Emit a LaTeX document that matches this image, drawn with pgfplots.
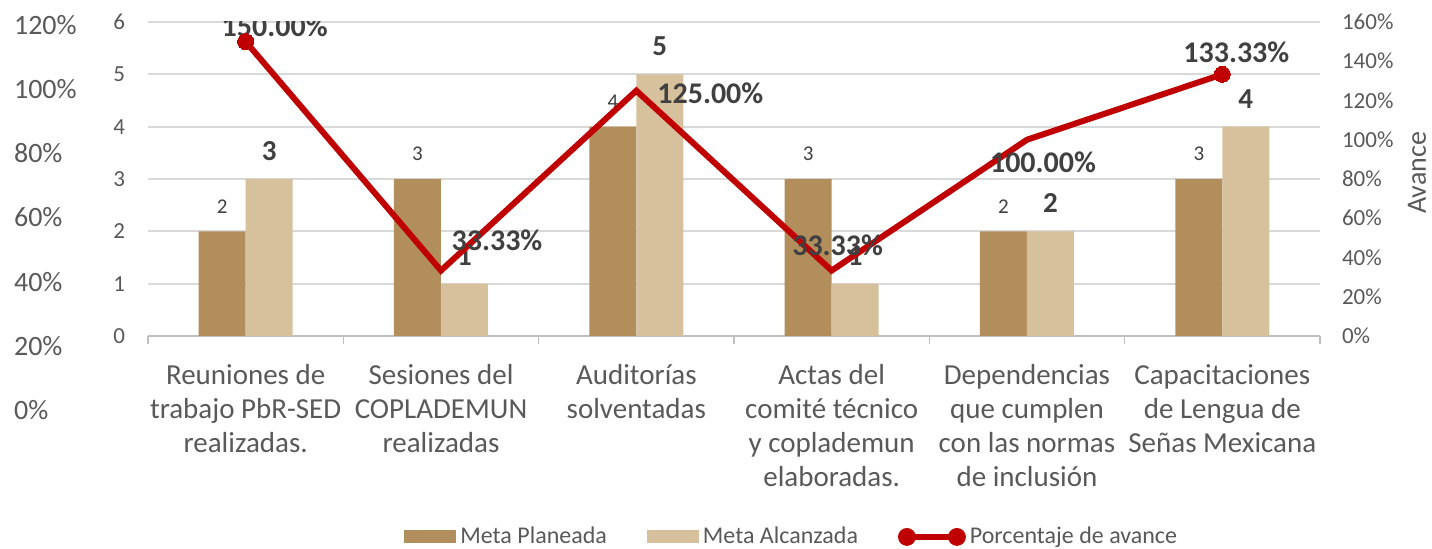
\documentclass[border=0pt]{standalone}
\usepackage{fontspec}
\setmainfont{Carlito}
\usepackage{pgfplots}
\pgfplotsset{compat=1.18}
\definecolor{plan}{HTML}{B38E5D}
\definecolor{alc}{HTML}{D6C19C}
\definecolor{lin}{HTML}{C00000}
\definecolor{txt}{HTML}{595959}
\definecolor{lab}{HTML}{404040}
\definecolor{grd}{HTML}{D9D9D9}
\definecolor{tck}{HTML}{BFBFBF}

\pgfplotsset{
  barlegend/.style={legend image code/.code={\path[##1] (0pt,-3.25pt) rectangle (26pt,3.25pt);}},
  linelegend/.style={legend image code/.code={
    \draw[lin, line width=3pt] (0pt,0pt) -- (25pt,0pt);
    \fill[lin] (0pt,0pt) circle (4.25pt);
    \fill[lin] (25pt,0pt) circle (4.25pt);}},
}

\pgfplotstableread{
x plan alc
0 2 3
1 3 1
2 4 5
3 3 1
4 2 2
5 3 4
}\metas

\pgfplotstableread{
x pct
0 150
1 33.33
2 125
3 33.33
4 100
5 133.33
}\avance

\begin{document}
\begin{tikzpicture}
\useasboundingbox (0,0) rectangle (716pt,274.5pt);

% far-left percentage scale
\begin{axis}[
  at={(0pt,69.5pt)}, anchor=south west, scale only axis,
  width=1pt, height=192.5pt,
  xmin=0, xmax=1, ymin=0, ymax=120, ytick={0,20,...,120},
  hide x axis, axis y line*=left, y axis line style={draw=none},
  major tick length=0pt, ytick style={draw=none},
  /pgf/number format/assume math mode=true,
  yticklabel={\pgfmathprintnumber{\tick}\%},
  yticklabel style={anchor=west, font=\fontsize{14}{16}\selectfont, text=txt, xshift=3.5pt},
]
\end{axis}

% main bar axis
\begin{axis}[
  at={(74pt,106.5pt)}, anchor=south west, scale only axis,
  width=586pt, height=157pt,
  xmin=-0.5, xmax=5.5, ymin=0, ymax=6, ytick={0,...,6},
  axis x line*=bottom, axis y line*=left,
  y axis line style={draw=none},
  x axis line style={tck, line width=0.75pt},
  ymajorgrids, grid style={grd, line width=0.9pt},
  xtick={0,...,5},
  xticklabels={{Reuniones de\\trabajo PbR-SED\\realizadas.},
               {Sesiones del\\COPLADEMUN\\realizadas},
               {Auditorías\\solventadas},
               {Actas del\\comité técnico\\y coplademun\\elaboradas.},
               {Dependencias\\que cumplen\\con las normas\\de inclusión},
               {Capacitaciones\\de Lengua de\\Señas Mexicana}},
  minor xtick={-0.5,0.5,...,5.5},
  major tick length=0pt, minor tick length=4pt, tick align=outside,
  major x tick style={draw=none}, ytick style={draw=none},
  minor x tick style={tck, line width=0.75pt},
  /pgf/number format/assume math mode=true,
  xticklabel style={align=center, font=\fontsize{14.5}{17}\selectfont, text=txt, anchor=north, yshift=-10.5pt},
  yticklabel style={font=\fontsize{11.5}{13}\selectfont, text=txt, xshift=-8pt},
  legend columns=3,
  legend style={at={(0.2184,-0.640)}, anchor=west, draw=none, fill=none, inner sep=0pt,
    font=\fontsize{12}{14}\selectfont, text=txt,
    nodes={inner xsep=1pt},
    /tikz/every odd column/.append style={column sep=1pt},
    /tikz/every even column/.append style={column sep=19pt}},
]
\addplot[ybar, bar width=23.5pt, bar shift=-11.75pt, fill=plan, draw=none, barlegend]
  table[x=x, y=plan] {\metas};
\addlegendentry{Meta Planeada}
\addplot[ybar, bar width=23.5pt, bar shift=11.75pt, fill=alc, draw=none, barlegend]
  table[x=x, y=alc] {\metas};
\addlegendentry{Meta Alcanzada}
\addlegendimage{linelegend}
\addlegendentry{Porcentaje de avance}

% planned labels
\foreach \xx/\vv in {0/2,1/3,2/4,3/3,4/2,5/3}{
  \edef\tmp{\noexpand\node[font=\noexpand\fontsize{10.5}{12}\noexpand\selectfont, text=lab, yshift=12.5pt] at (axis cs:\xx-0.1203,\vv) {\vv};}\tmp
}
% achieved labels
\foreach \xx/\vv in {0/3,1/1,2/5,3/1,4/2,5/4}{
  \edef\tmp{\noexpand\node[font=\noexpand\fontsize{14.5}{16}\noexpand\selectfont\noexpand\bfseries, text=lab, yshift=14pt] at (axis cs:\xx+0.1203,\vv) {\vv};}\tmp
}
\end{axis}

% right percentage axis with line
\begin{axis}[
  at={(74pt,106.5pt)}, anchor=south west, scale only axis,
  width=586pt, height=157pt,
  xmin=-0.5, xmax=5.5, ymin=0, ymax=160, ytick={0,20,...,160},
  hide x axis, axis y line*=right, y axis line style={draw=none},
  major tick length=0pt, ytick style={draw=none},
  /pgf/number format/assume math mode=true,
  yticklabel={\pgfmathprintnumber{\tick}\%},
  yticklabel style={anchor=west, font=\fontsize{11.5}{13}\selectfont, text=txt, xshift=7.5pt},
  ylabel={Avance},
  every axis y label/.style={at={(rel axis cs:1,0.5)}, anchor=center, rotate=90,
    xshift=3pt, yshift=-48.5pt, inner sep=0pt, font=\fontsize{14}{16}\selectfont, text=txt},
]
\addplot[lin, line width=3pt, mark=*, mark indices={1,6}, mark size=4pt,
  mark options={fill=lin, draw=lin, line width=0pt}]
  table[x=x, y=pct] {\avance};

\node[font=\fontsize{15}{17}\selectfont\bfseries, text=lab, xshift=14.5pt, yshift=7.5pt] at (axis cs:0,150) {150.00\%};
\node[font=\fontsize{15}{17}\selectfont\bfseries, text=lab, xshift=28pt, yshift=15pt] at (axis cs:1,33.33) {33.33\%};
\node[font=\fontsize{15}{17}\selectfont\bfseries, text=lab, xshift=37pt, yshift=-1.5pt] at (axis cs:2,125) {125.00\%};
\node[font=\fontsize{15}{17}\selectfont\bfseries, text=lab, xshift=3pt, yshift=12.5pt] at (axis cs:3,33.33) {33.33\%};
\node[font=\fontsize{15}{17}\selectfont\bfseries, text=lab, xshift=8pt, yshift=-11.5pt] at (axis cs:4,100) {100.00\%};
\node[font=\fontsize{15}{17}\selectfont\bfseries, text=lab, xshift=7pt, yshift=11pt] at (axis cs:5,133.33) {133.33\%};
\end{axis}
\end{tikzpicture}
\end{document}
